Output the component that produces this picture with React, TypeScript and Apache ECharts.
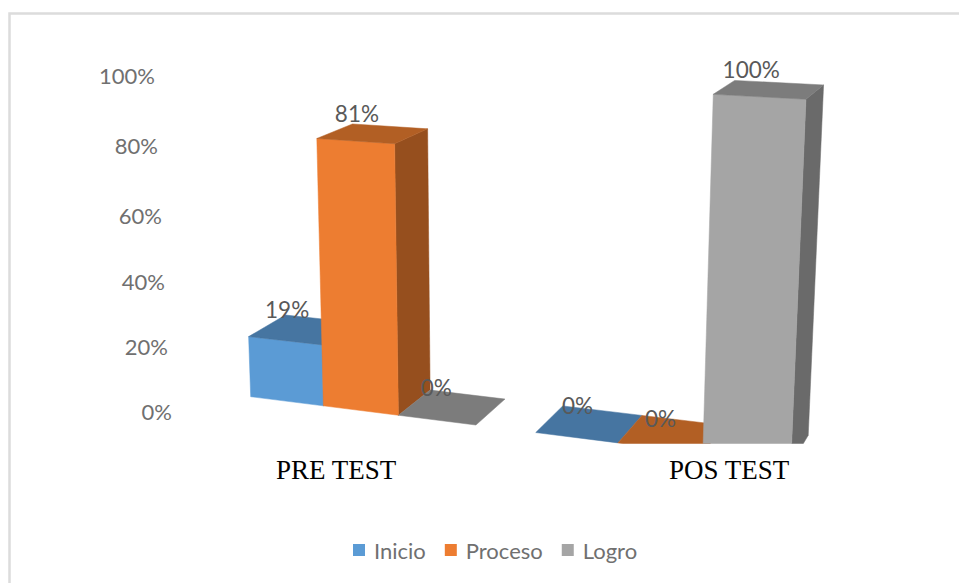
import React, { useEffect, useRef } from "react";
import * as echarts from "echarts";

const categories = ["PRE TEST", "POS TEST"];
const seriesNames = ["Inicio", "Proceso", "Logro"];
const inicio = [19, 0];
const proceso = [81, 0];
const logro = [0, 100];
const seriesValues = [inicio, proceso, logro];
const tickLabels = ["0%", "20%", "40%", "60%", "80%", "100%"];
// Flat-axis spots of the tick labels, which sit on the chart's tilted wall.
const tickSpots = [0, 19.3, 38.7, 58.3, 79.2, 100];
const tickInset = [0, 4, 7, 10, 14, 17];

const frontColors = ["#5B9BD5", "#ED7D31", "#A5A5A5"];
const topColors = ["#4675A1", "#B25F24", "#7C7C7C"];
const sideColors = ["#3C658C", "#964F1E", "#6A6A6A"];

const GROUP_SPAN = 3.75; // three bars and the gap
const SLOT_MAX = 6.75;
const GRID_LEFT = 179;
const GRID_TOP = 77;
const GRID_HEIGHT = 336;
const SLOT_PX = 104.8;
const CLIP_Y = 443.5;

// Homography of the 3D view: slot s, height h (0..1), depth d (0..1) -> pixels
function project(s: number, h: number, d: number): number[] {
  const w = 1 - 0.0157 * s - 0.044 * h + 0.04 * d;
  const x = 67.6 * s - 21.9 * h + 47.9 * d + 250.7;
  const y = 2.77 * s - 331 * h - 8.8 * d + 396.7;
  return [x / w, y / w];
}

function clipBelow(points: number[][]): number[][] {
  const out: number[][] = [];
  points.forEach((p, i) => {
    const q = points[(i + 1) % points.length];
    if (p[1] <= CLIP_Y) out.push(p);
    if (p[1] <= CLIP_Y !== q[1] <= CLIP_Y) {
      const t = (CLIP_Y - p[1]) / (q[1] - p[1]);
      out.push([p[0] + t * (q[0] - p[0]), CLIP_Y]);
    }
  });
  return out;
}

function face(points: number[][], fill: string) {
  const clipped = clipBelow(points);
  return {
    type: "polygon",
    shape: { points: clipped },
    style: { fill, stroke: fill, lineWidth: 0.5 },
  };
}

function makeRenderItem(k: number) {
  return (_params: any, api: any) => {
    const slotStart = api.value(0);
    const value = api.value(1);
    const a = api.coord([slotStart, value]);
    const b = api.coord([slotStart + 1, 0]);
    const s0 = (a[0] - GRID_LEFT) / SLOT_PX;
    const s1 = (b[0] - GRID_LEFT) / SLOT_PX;
    const h = (GRID_TOP + GRID_HEIGHT - a[1]) / GRID_HEIGHT;
    const children: any[] = [];
    if (h > 0) {
      children.push(
        face(
          [project(s1, 0, 0), project(s1, 0, 1), project(s1, h, 1), project(s1, h, 0)],
          sideColors[k]
        ),
        face(
          [project(s0, 0, 0), project(s1, 0, 0), project(s1, h, 0), project(s0, h, 0)],
          frontColors[k]
        )
      );
    }
    children.push(
      face(
        [project(s0, h, 0), project(s1, h, 0), project(s1, h, 1), project(s0, h, 1)],
        topColors[k]
      )
    );
    const c = project((s0 + s1) / 2, h, 0.5);
    // The flat labels of the nearer group sit a little lower and further right.
    const clippedLabel = h === 0 && slotStart >= GROUP_SPAN;
    const nudgeX = clippedLabel ? 4 + k : 0;
    const nudgeY = clippedLabel ? 2 + 3 * k : 0;
    children.push({
      type: "text",
      z2: 10,
      style: {
        text: `${value}%`,
        x: c[0] - 16 + nudgeX - (value === 100 ? 2 : 0),
        y: c[1] - 20 + nudgeY,
        align: "center",
        verticalAlign: "middle",
        fontFamily: "Lato",
        fontSize: 22.5,
        fill: "#595959",
      },
    });
    return { type: "group", children };
  };
}

export default function App() {
  const ref = useRef<HTMLDivElement>(null);
  useEffect(() => {
    document.body.style.margin = "0";
    const chart = echarts.init(ref.current!, undefined, { renderer: "svg" });
    const rich: any = {};
    tickInset.forEach((inset, i) => {
      rich[`t${i}`] = {
        fontFamily: "Lato",
        fontSize: 22,
        color: "#707070",
        padding: [0, inset, 3, 0],
      };
    });
    chart.setOption({
      animation: false,
      backgroundColor: "#fff",
      grid: {
        left: GRID_LEFT,
        top: GRID_TOP,
        height: GRID_HEIGHT,
        width: SLOT_MAX * SLOT_PX,
      },
      legend: {
        data: seriesNames,
        left: 348,
        top: 534,
        icon: "rect",
        itemWidth: 12,
        itemHeight: 12,
        itemGap: 19,
        textStyle: {
          fontFamily: "Lato",
          fontSize: 22,
          color: "#707070",
          padding: [0, 0, 0, 4],
        },
      },
      xAxis: {
        type: "value",
        min: 0,
        max: SLOT_MAX,
        axisLine: { show: false },
        axisTick: { show: false },
        splitLine: { show: false },
        axisLabel: {
          customValues: categories.map((_, c) => c * GROUP_SPAN + 1.5),
          formatter: (v: number) =>
            categories[Math.round((v - 1.5) / GROUP_SPAN)],
          margin: 43,
          fontFamily: "Liberation Serif",
          fontSize: 27,
          color: "#000",
        },
      },
      yAxis: {
        type: "value",
        min: 0,
        max: 100,
        axisLine: { show: false },
        axisTick: { show: false },
        splitLine: { show: false },
        axisLabel: {
          customValues: tickSpots,
          formatter: (v: number) => {
            const i = tickSpots.indexOf(v);
            return `{t${i}|${tickLabels[i]}}`;
          },
          margin: 7,
          rich,
        },
      },
      graphic: [
        {
          type: "polyline",
          shape: { points: [[9.5, 583], [9.5, 13.5], [959, 13.5]] },
          style: { stroke: "#DCDCDC", lineWidth: 2.5, fill: "none" },
          silent: true,
        },
      ],
      series: seriesValues.map((values, k) => ({
        type: "custom",
        name: seriesNames[k],
        clip: false,
        itemStyle: { color: frontColors[k] },
        encode: { x: 0, y: 1 },
        data: values.map((v, c) => [c * GROUP_SPAN + k, v]),
        renderItem: makeRenderItem(k),
      })),
    });
    return () => chart.dispose();
  }, []);
  return <div ref={ref} style={{ width: 959, height: 583 }} />;
}
